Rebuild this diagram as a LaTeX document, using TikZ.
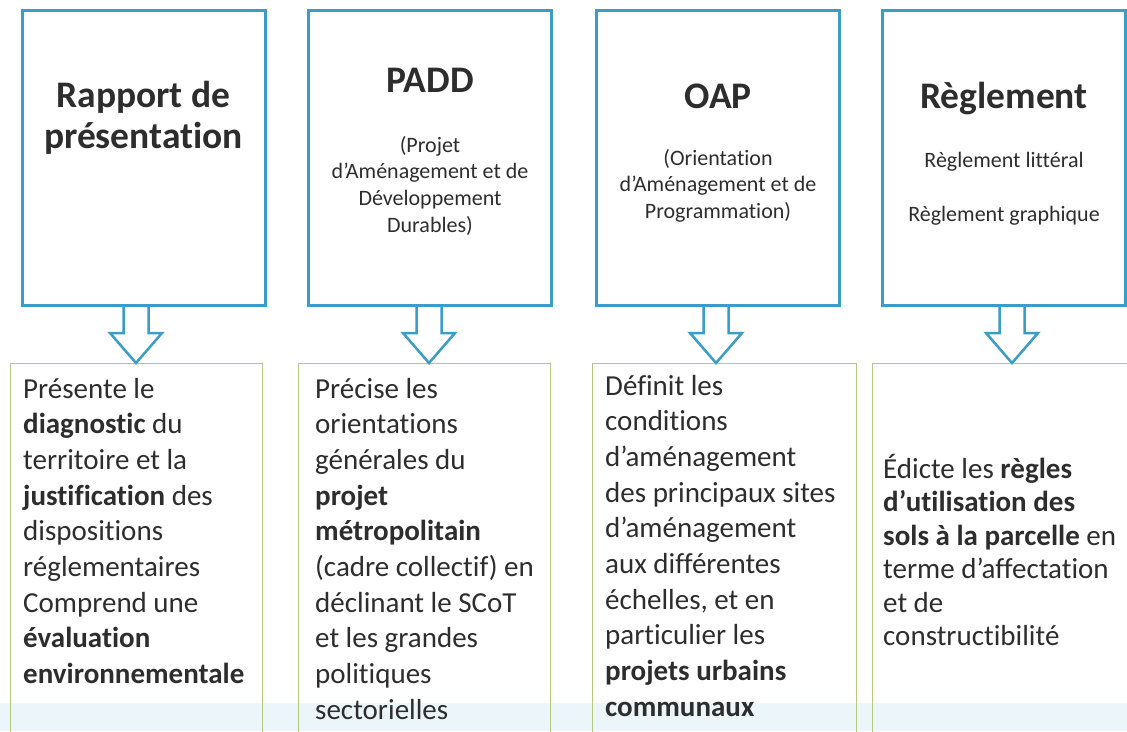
\documentclass[tikz,border=0pt]{standalone}
\usepackage{fontspec}
\setmainfont{Carlito}[Ligatures=NoCommon]
\usetikzlibrary{calc,positioning}

\definecolor{pluBlue}{RGB}{58,157,200}
\definecolor{pluGreen}{RGB}{181,199,122}
\definecolor{pluInk}{RGB}{45,45,45}
\definecolor{pluTint}{RGB}{236,246,250}

\begin{document}
\begin{tikzpicture}[x=1pt, y=-1pt,
    docbox/.style={draw=pluBlue, line width=3pt, minimum width=243pt, minimum height=295pt, inner sep=0pt},
    rolebox/.style={draw=pluGreen, line width=1.4pt, anchor=north west, minimum height=400pt, inner sep=0pt},
    doctitle/.style={font=\bfseries\fontsize{37.5}{41}\selectfont, text=pluInk, align=flush center, text width=235pt, anchor=base, inner sep=0pt},
    docsub/.style={font=\fontsize{22}{26.7}\selectfont, text=pluInk, align=flush center, text width=235pt, anchor=base, inner sep=0pt},
    roletext/.style={font=\fontsize{29}{35.7}\selectfont, text=pluInk, align=flush left, text width=250pt, anchor=base west, inner sep=0pt},
    blockarrow/.style={draw=pluBlue, line width=2.5pt, line join=miter}
  ]
  \useasboundingbox (0,0) rectangle (1127,731);
  \fill[pluTint] (0,703) rectangle (1127,731);

  \node[docbox] (r1) at (143.5,158) {};
  \node[docbox] (r2) at (430,158) {};
  \node[docbox] (r3) at (718,158) {};
  \node[docbox] (r4) at (1004,158) {};

  \node[rolebox, minimum width=252pt] (b1) at (10,363) {};
  \node[rolebox, minimum width=252pt] (b2) at (298,363) {};
  \node[rolebox, minimum width=264pt] (b3) at (592,363) {};
  \node[rolebox, minimum width=262pt] (b4) at (872,363) {};

  \foreach \i/\cx in {1/136,2/429,3/716,4/1012}
    \draw[blockarrow] let \p1=(r\i.south), \p2=(b\i.north) in
      ({\cx*1pt-12.5pt},\y1) -- ({\cx*1pt-12.5pt},{\y2+30pt}) -- ({\cx*1pt-26pt},{\y2+30pt})
      -- ({\cx*1pt},\y2) -- ({\cx*1pt+26pt},{\y2+30pt}) -- ({\cx*1pt+12.5pt},{\y2+30pt})
      -- ({\cx*1pt+12.5pt},\y1);

  \node[doctitle] (t1) at (143.5,107) {Rapport de\\présentation};
  \node[doctitle] (t2) at (430,92) {PADD};
  \node[docsub] (s2) at (430,152) {(Projet\\d’Aménagement et de\\Développement\\Durables)};
  \node[doctitle] (t3) at (718,108) {OAP};
  \node[docsub] (s3) at (718,165) {(Orientation\\d’Aménagement et de\\Programmation)};
  \node[doctitle] (t4) at (1004,108) {Règlement};
  \node[docsub] (s4) at (1004,167) {Règlement littéral};
  \node[docsub] (s5) at (1004,221) {Règlement graphique};

  \node[roletext] (d1) at (23,398) {Présente le\\\textbf{diagnostic} du\\territoire et la\\\textbf{justification} des\\dispositions\\réglementaires\\Comprend une\\\textbf{évaluation}\\\textbf{environnementale}};
  \node[roletext] (d2) at (315,398) {Précise les\\orientations\\générales du\\\textbf{projet}\\\textbf{métropolitain}\\(cadre collectif) en\\déclinant le SCoT\\et les grandes\\politiques\\sectorielles};
  \node[roletext] (d3) at (605,395) {Définit les\\conditions\\d’aménagement\\des principaux sites\\d’aménagement\\aux différentes\\échelles, et en\\particulier les\\\textbf{projets urbains}\\\textbf{communaux}};
  \node[roletext, font=\fontsize{29}{33.5}\selectfont] (d4) at (883,478) {Édicte les \textbf{règles}\\\textbf{d’utilisation des}\\\textbf{sols à la parcelle} en\\terme d’affectation\\et de\\constructibilité};
\end{tikzpicture}
\end{document}
